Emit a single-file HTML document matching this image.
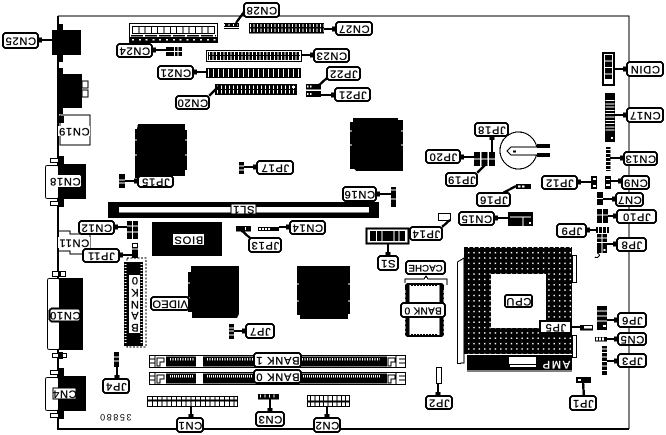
<!DOCTYPE html>
<html><head><meta charset="utf-8">
<style>
html,body{margin:0;padding:0;background:#fff}
svg{display:block;shape-rendering:crispEdges}
text{font-family:"Liberation Sans",sans-serif;font-size:11px;letter-spacing:.8px;text-anchor:middle;dominant-baseline:central;fill:#000;stroke:#000;stroke-width:.3}
.b{fill:#fff;stroke:#000;stroke-width:2}
.w{fill:#fff;stroke:#000;stroke-width:1}
.k{fill:#000}
.v{fill:#fff}
.t{stroke:#fff;fill:none}
.d{stroke:#000;fill:none}
.p{stroke:#000;stroke-width:2.4;fill:none}
.q{stroke:#000;stroke-width:5;fill:none}
</style></head>
<body>
<svg width="666" height="435" viewBox="0 0 666 435" xmlns="http://www.w3.org/2000/svg">
<defs>
<pattern id="dots" x="466" y="250" width="5.35" height="5.35" patternUnits="userSpaceOnUse">
<rect width="5.35" height="5.35" fill="#000"/><rect x="2" y="2" width="1.5" height="1.5" fill="#fff"/>
</pattern>
</defs>
<rect width="666" height="435" fill="#fff"/>
<!-- board -->
<path d="M58 16H629V429" fill="none" stroke="#000" stroke-width="1.3"/>
<path d="M58 16V429H629" fill="none" stroke="#000" stroke-width="2"/>

<!-- left I/O -->
<rect class="k" x="52" y="30" width="29" height="25"/><rect class="k" x="58" y="24" width="5" height="38"/>
<rect class="k" x="58" y="74" width="24" height="34"/><rect class="k" x="58" y="68" width="5" height="46"/>
<rect class="w" x="82" y="81" width="6" height="7"/><rect class="w" x="82" y="90" width="6" height="7"/>
<rect class="w" x="60" y="115" width="30" height="30"/><rect class="k" x="58" y="116" width="6" height="7"/>
<rect class="w" x="45.500" y="165.500" width="13" height="33" rx="2"/>
<rect class="k" x="58" y="164" width="28" height="35"/>
<rect class="w" x="50.500" y="158.500" width="8" height="4"/><rect class="w" x="50.500" y="201.500" width="8" height="4"/>
<rect class="k" x="58" y="156" width="6" height="8"/><rect class="k" x="58" y="199" width="6" height="8"/>
<path d="M59 231H70V234H90V254H70V251H59" class="w"/>
<rect class="w" x="47.500" y="278.500" width="12" height="71" rx="2"/>
<rect class="k" x="59" y="278" width="24" height="72"/>
<rect class="w" x="52.500" y="271.500" width="13" height="5"/><rect class="w" x="52.500" y="353.500" width="14" height="4"/>
<rect class="k" x="58" y="271" width="3" height="6"/><rect class="k" x="58" y="352" width="5" height="7"/>
<rect class="w" x="45.500" y="377.500" width="13" height="33" rx="2"/>
<rect class="k" x="58" y="376" width="28" height="35"/>
<rect class="w" x="50.500" y="370.500" width="8" height="4"/><rect class="w" x="50.500" y="413.500" width="8" height="4"/>
<rect class="k" x="58" y="368" width="6" height="8"/><rect class="k" x="58" y="411" width="6" height="8"/>

<!-- top-left connector -->
<rect class="w" x="129.500" y="23.500" width="88" height="19"/>
<rect class="w" x="132.500" y="26.500" width="82" height="7"/>
<path class="d" d="M132 30H215" stroke-width="7" stroke-dasharray="1 5.3"/>
<path class="d" d="M131 35.500H216" stroke-width="1.5" stroke-dasharray="12 2"/>
<rect class="k" x="130" y="37" width="87" height="5"/>
<path class="t" d="M132 39.500H216" stroke-width="1.500" stroke-dasharray="2 4.8"/>

<!-- CN24, CN28 -->
<rect class="k" x="166" y="47" width="16" height="9"/><path class="t" d="M166 51.500H182M174.500 47V56M178 47V56" stroke-width="1"/>
<rect class="k" x="224" y="23" width="15" height="6"/><path class="t" d="M224 27.500H239" stroke-width=".7"/><path class="t" d="M224 25H238" stroke-width="2" stroke-dasharray="1 3.5"/>

<!-- slots -->
<rect class="k" x="249" y="23" width="75" height="10.500"/>
<path class="t" d="M250 28H324" stroke-width="8" stroke-dasharray="1 2.5"/>
<path class="k" d="M249 27h75v1.500h-75z"/>
<rect class="w" x="206.500" y="50.500" width="95" height="11"/><rect class="k" x="208" y="52" width="92" height="8"/>
<path class="t" d="M209 56H300" stroke-width="8" stroke-dasharray="1 2.6"/><path d="M209 55.500H300" stroke="#000" stroke-width="1.4"/>
<rect class="k" x="206" y="68" width="95" height="10"/>
<path class="t" d="M208 73H300" stroke-width="8" stroke-dasharray="1 4"/>
<rect class="k" x="215" y="84" width="82" height="11"/>
<path class="t" d="M217 89.500H296" stroke-width="8" stroke-dasharray="1 3"/><path d="M217 89.500H296" stroke="#000" stroke-width="1.4"/>
<rect class="v" x="292" y="86" width="3" height="2"/>

<!-- JP21/22 -->
<rect class="k" x="306" y="84" width="15" height="5.500"/><path class="t" d="M307 86.500h5" stroke-width="1.800" stroke-dasharray="1.500 1.500"/>
<rect class="k" x="306" y="91" width="15" height="6"/><path class="t" d="M307 94h5" stroke-width="1.800" stroke-dasharray="1.500 1.500"/>

<!-- right connectors -->
<rect class="k" x="602" y="52" width="13" height="34"/><rect class="v" x="604" y="54" width="9" height="30"/>
<path class="d" d="M608.500 55V79" stroke-width="7" stroke-dasharray="5.500 1"/>
<rect class="k" x="605" y="93" width="10" height="49"/>
<path class="t" d="M610 100V133" stroke-width="9" stroke-dasharray="1 2.300"/>
<rect class="v" x="611" y="137" width="2" height="2"/>
<rect class="k" x="606" y="147" width="4.500" height="24"/><path class="t" d="M608 149V171" stroke-width="5" stroke-dasharray="1 3"/>
<rect class="k" x="605" y="176" width="6" height="13"/><rect class="v" x="606" y="179" width="4" height="1"/><rect class="v" x="606" y="184" width="4" height="2"/>
<rect class="k" x="591" y="176" width="6" height="13"/><rect class="v" x="593" y="178" width="3" height="2"/><rect class="v" x="593" y="185" width="3" height="2"/>
<rect class="k" x="597" y="192" width="6" height="13"/><path class="t" d="M597 198.500H603" stroke-width="1"/>
<rect class="k" x="597" y="209" width="11" height="14"/><path class="t" d="M597 215H608M602.500 209V223" stroke-width="1"/>
<rect class="k" x="596" y="227" width="13" height="6"/><path class="t" d="M598 230H608" stroke-width="6" stroke-dasharray="1 3"/>
<rect class="k" x="597" y="234" width="10" height="19"/><path class="t" d="M597 238H607M597 242.500H607M602 234V253" stroke-width="1"/><rect class="v" x="603.500" y="249" width="2" height="2"/>
<path d="M597 253c3 1 3 3 1 4c-1 1-2 1-3 0" fill="none" stroke="#000"/>

<!-- JP18-20 block -->
<rect class="k" x="474" y="152" width="6" height="14"/><rect class="k" x="481.500" y="152" width="6" height="14"/><rect class="k" x="489" y="152" width="6" height="14"/>
<path class="t" d="M474 159H480M481.500 159H487.500M489 159H495" stroke-width="1"/>

<!-- battery -->
<circle cx="518.500" cy="150.500" r="18.500" fill="#fff" stroke="#000" stroke-width="1.100"/>
<path d="M550 147H511L507 151L511 155H550" class="w"/>
<rect class="k" x="537" y="144" width="13" height="4"/><rect class="k" x="537" y="153" width="13" height="4"/>
<path class="k" d="M513 150.500h3v2h-3z"/>

<!-- JP16 + CN15 -->
<rect class="k" x="516" y="184" width="15" height="5"/><rect class="v" x="518" y="185.500" width="2.500" height="2"/><rect class="v" x="522" y="185.500" width="2.500" height="2"/>
<rect class="k" x="508" y="212" width="25" height="14"/><path class="t" d="M510 217H531M523 217V226" stroke-width="1"/><rect class="v" x="529" y="222" width="2" height="2"/>
<rect class="w" x="438.500" y="213.500" width="12" height="7"/>

<!-- chips -->
<path class="k" d="M138 124H185V130H187V170H185V176H172L170 178H135V129H137z"/>
<path class="k" d="M353 118H398V120H403V171H356L354 169H350V122H353z"/>
<path class="k" d="M191 266H239V314L237 318H192V312H188V272H191z"/>
<path class="k" d="M297 266H350V314H348V319H300V315H297z"/>
<path class="t" d="M135 140H137M135 155H137M185 140H187M185 155H187M350 131H352M350 145H352M401 131H403M401 145H403M188 283H190M188 298H190M297 284H299M297 301H299M348 284H350M348 301H350" stroke-width="1"/>

<!-- BIOS / SL1 -->
<rect class="k" x="152" y="222" width="70" height="34"/>
<rect class="k" x="108" y="202" width="271" height="16"/><rect class="v" x="119" y="207" width="250" height="5.500"/>

<!-- video chip -->
<rect x="127" y="258" width="19" height="89" fill="none" stroke="#000" stroke-dasharray="2 1.500"/>
<rect class="k" x="124" y="262" width="19" height="84"/>
<rect class="v" x="129" y="275" width="11" height="58"/>
<path class="t" d="M125.500 264V344M141.500 264V344" stroke-width="2" stroke-dasharray="1 2"/>

<!-- CN14, JP13, S1, JP7 etc. -->
<rect class="k" x="258" y="227" width="21" height="4"/><path class="t" d="M259 229H270" stroke-width="2" stroke-dasharray="2 1"/>
<rect class="k" x="236" y="226" width="15" height="5.500"/><rect class="v" x="245" y="227" width="1" height="3"/>
<rect class="b" x="366.500" y="228.500" width="42" height="15"/>
<rect class="k" x="370" y="231" width="35" height="10"/>
<path class="t" d="M376.500 231V241M382 231V241M394 231V241M399 231V241" stroke-width="1"/>
<rect class="k" x="119" y="174" width="6" height="14"/><path class="t" d="M119 180H125M119 183H125" stroke-width=".9"/>
<rect class="k" x="127" y="221" width="11" height="18"/><path class="t" d="M132.500 221V239M127 226H138M127 232H138" stroke-width="1"/>
<rect class="k" x="132" y="243" width="6" height="15"/><rect class="v" x="133" y="244" width="4" height="3"/><path class="t" d="M132 249H138" stroke-width="1"/>
<rect class="k" x="239" y="162" width="5" height="12"/><path class="t" d="M239 166H244M239 170H244" stroke-width=".9"/>
<rect class="k" x="391" y="187" width="5" height="20"/><path class="t" d="M391 190H396M391 199H396" stroke-width=".9"/>
<rect class="k" x="229" y="324" width="5" height="15"/><path class="t" d="M229 328H234M229 331H234M229 335H234" stroke-width=".9"/>
<rect class="k" x="114" y="352" width="5" height="15"/><path class="t" d="M114 357H119M114 361H119" stroke-width=".9"/>

<!-- cache -->
<rect class="k" x="405" y="283" width="39" height="54" rx="3"/>
<rect class="v" x="409.500" y="285" width="30" height="50"/>
<path class="d" d="M406 290V333M443 290V333" stroke-width="3" stroke-dasharray="3 1.500"/>
<path class="t" d="M405 290V333M444 290V333" stroke-width="1" stroke-dasharray="3 1.500"/>
<path class="d" d="M411 284.500H438M411 335.500H438" stroke-width="3" stroke-dasharray="2 1"/>
<path class="d" d="M405 283V279H424L426 276L428 279H447V285"/>

<!-- CPU -->
<path class="w" d="M457.500 363.500V262L464 258V363z"/>
<rect x="464" y="247" width="108" height="107" fill="url(#dots)"/>
<rect class="v" x="491" y="274" width="55" height="54"/>
<rect class="w" x="572.500" y="255.500" width="4" height="27"/>
<rect class="w" x="572.500" y="335.500" width="4" height="22"/>
<rect class="k" x="467" y="355" width="105" height="15"/>
<rect class="v" x="509" y="357" width="27" height="7"/><rect class="v" x="510" y="365" width="26" height="2"/>
<path d="M467 371H572" stroke="#000"/>

<!-- JP etc lower right -->
<rect class="k" x="597" y="306" width="10" height="24"/><path class="t" d="M597 311H607M597 316H607M597 321H607" stroke-width="1"/><rect class="v" x="603" y="325" width="3" height="2"/>
<rect class="k" x="580" y="325" width="13" height="5.500"/><rect class="v" x="584" y="326" width="8" height="2.500"/>
<rect class="k" x="595" y="337" width="12" height="4.500"/><path class="t" d="M596 339H604" stroke-width="3" stroke-dasharray="2 1"/>
<rect class="k" x="602" y="346" width="5" height="29"/><path class="t" d="M602 349H607" stroke-width=".9"/><path class="t" d="M604.500 352V374" stroke-width="5" stroke-dasharray="1 3.500"/>
<rect class="k" x="576" y="377" width="15" height="6"/><rect class="v" x="578" y="379" width="3" height="2"/>
<rect class="w" x="436.500" y="367.500" width="5" height="16"/>

<!-- banks -->
<g>
<rect class="w" x="149.500" y="355.500" width="256" height="12"/>
<rect class="k" x="166" y="356.500" width="30" height="10"/><rect class="k" x="203" y="356.500" width="184" height="10"/>
<path class="t" d="M170 359H194M207 359H380" stroke-width="2.500" stroke-dasharray="1 1.500"/>
<path d="M155 356V367M149 359H155M149 363H155M157 358H164V362H160V366H157zM396 356V367M399 359H405M399 363H405M388 358H395V362H391V366H388z" fill="none" stroke="#000"/>
<rect class="w" x="149.500" y="372.500" width="256" height="12"/>
<rect class="k" x="166" y="373.500" width="30" height="10"/><rect class="k" x="203" y="373.500" width="184" height="10"/>
<path class="t" d="M170 376H194M207 376H380" stroke-width="2.500" stroke-dasharray="1 1"/>
<path d="M155 373V384M149 376H155M149 380H155M157 375H164V379H160V383H157zM396 373V384M399 376H405M399 380H405M388 375H395V379H391V383H388z" fill="none" stroke="#000"/>
</g>

<!-- bottom connectors -->
<rect class="w" x="147.500" y="396.500" width="90" height="10"/><path d="M148 400.500H237" stroke="#000" stroke-width="2"/><path class="d" d="M152 401H236" stroke-width="10" stroke-dasharray="1 3.800"/>
<rect class="k" x="258" y="394" width="21" height="5.500"/><path class="t" d="M260 396H278" stroke-width="3" stroke-dasharray="1 3.500"/>
<rect class="w" x="307.500" y="395.500" width="42" height="11"/><path d="M308 401.500H349" stroke="#000" stroke-width="2"/><path class="d" d="M310 401H348" stroke-width="10" stroke-dasharray="1 3.400"/>

<!-- pointer lines -->
<path class="p" d="M38 40H52M152 50H167M193 72H207M209 96L218 87M244 12L236 23M336 29H324M314 55H301M327 78L318 86M335 95H321M627 69H615M627 115H615M492 136V152M460 157H474M477 173L485 165M503 193L516 186M624 158H610M577 182H591M622 181H611M616 199H603M617 216H608M586 230H596M617 244H607M494 218H508M138 181H125M114 227H127M119 255H132M257 167H244M376 194H391M290 227H279M250 238L241 230M388 256V243M442 227L450 220M117 379V367M191 418V406M270 412V399M327 418V406M246 331H234M438 396V383M571 327H580M618 320H607M618 339H607M618 361H607M584 396L583 383"/>
<path class="q" d="M38 40H42M152 50H156M193 72H197M336 29H332M314 55H310M335 95H331M627 69H623M627 115H623M492 136V140M460 157H464M624 158H620M577 182H581M622 181H618M616 199H612M617 216H613M586 230H590M617 244H613M494 218H498M138 181H134M114 227H118M119 255H123M257 167H253M376 194H380M290 227H286M388 256V252M117 379V375M191 418V414M270 412V408M327 418V414M246 331H242M438 396V392M618 320H614M618 339H614M618 361H614"/>

<!-- labels -->
<rect class="b" x="3" y="33" width="35" height="15" rx="3"/><text transform="translate(20.500,40.500) rotate(180)">CN25</text>
<rect class="b" x="117" y="44" width="35" height="13" rx="3"/><text transform="translate(134.500,50.500) rotate(180)">CN24</text>
<rect class="b" x="158" y="66" width="35" height="13" rx="3"/><text transform="translate(175.500,72.500) rotate(180)">CN21</text>
<rect class="b" x="176" y="96" width="33" height="13" rx="3"/><text transform="translate(192.500,102.500) rotate(180)">CN20</text>
<rect x="58" y="126" width="32" height="10" fill="#fff"/><text transform="translate(74,131) rotate(180)">CN19</text>
<rect class="b" x="244" y="3" width="35" height="14" rx="3"/><text transform="translate(261.500,10) rotate(180)">CN28</text>
<rect class="b" x="336" y="22" width="36" height="13" rx="3"/><text transform="translate(354,28.500) rotate(180)">CN27</text>
<rect class="b" x="314" y="49" width="35" height="13" rx="3"/><text transform="translate(331.500,55.500) rotate(180)">CN23</text>
<rect class="b" x="327" y="67" width="33" height="13" rx="3"/><text transform="translate(343.500,73.500) rotate(180)">JP22</text>
<rect class="b" x="335" y="88" width="35" height="13" rx="3"/><text transform="translate(352.500,94.500) rotate(180)">JP21</text>
<rect class="b" x="627" y="62" width="36" height="14" rx="3"/><text transform="translate(645,69) rotate(180)">CDIN</text>
<rect class="b" x="627" y="108" width="36" height="14" rx="3"/><text transform="translate(645,115) rotate(180)">CN17</text>
<rect class="b" x="475" y="123" width="33" height="13" rx="3"/><text transform="translate(491.500,129.500) rotate(180)">JP18</text>
<rect class="b" x="426" y="150" width="34" height="13" rx="3"/><text transform="translate(443,156.500) rotate(180)">JP20</text>
<rect class="b" x="446" y="173" width="31" height="13" rx="3"/><text transform="translate(461.500,179.500) rotate(180)">JP19</text>
<rect class="b" x="477" y="193" width="33" height="13" rx="3"/><text transform="translate(493.500,199.500) rotate(180)">JP16</text>
<rect class="b" x="624" y="152" width="33" height="13" rx="3"/><text transform="translate(640.500,158.500) rotate(180)">CN13</text>
<rect class="b" x="542" y="176" width="35" height="13" rx="3"/><text transform="translate(559.500,182.500) rotate(180)">JP12</text>
<rect class="b" x="622" y="176" width="27" height="13" rx="3"/><text transform="translate(635.500,182.500) rotate(180)">CN9</text>
<rect class="b" x="616" y="193" width="27" height="13" rx="3"/><text transform="translate(629.500,199.500) rotate(180)">CN7</text>
<rect class="b" x="617" y="210" width="39" height="13" rx="3"/><text transform="translate(636.500,216.500) rotate(180)">JP10</text>
<rect class="b" x="557" y="224" width="29" height="13" rx="3"/><text transform="translate(571.500,230.500) rotate(180)">JP9</text>
<rect class="b" x="617" y="238" width="29" height="13" rx="3"/><text transform="translate(631.500,244.500) rotate(180)">JP8</text>
<rect class="b" x="459" y="212" width="35" height="13" rx="3"/><text transform="translate(476.500,218.500) rotate(180)">CN15</text>
<rect x="49" y="175" width="32" height="12" fill="#fff" rx="2"/><text transform="translate(65,181) rotate(180)">CN18</text>
<rect class="b" x="138" y="176" width="35" height="11" rx="3"/><text transform="translate(155.500,181.500) rotate(180)">JP15</text>
<rect class="b" x="79" y="221" width="35" height="13" rx="3"/><text transform="translate(96.500,227.500) rotate(180)">CN12</text>
<rect x="58" y="237" width="32" height="11" fill="#fff"/><text transform="translate(74,242.500) rotate(180)">CN11</text>
<rect class="b" x="83" y="249" width="36" height="13" rx="3"/><text transform="translate(101,255.500) rotate(180)">JP11</text>
<rect class="b" x="257" y="161" width="36" height="13" rx="3"/><text transform="translate(275,167.500) rotate(180)">JP17</text>
<rect class="b" x="343" y="187" width="33" height="14" rx="3"/><text transform="translate(359.500,194) rotate(180)">CN16</text>
<rect x="231" y="204" width="25" height="10" fill="#fff" stroke="#000"/><text transform="translate(243.500,209) rotate(180)">SL1</text>
<rect class="b" x="290" y="221" width="35" height="13" rx="3"/><text transform="translate(307.500,227.500) rotate(180)">CN14</text>
<rect class="b" x="249" y="238" width="32" height="14" rx="3"/><text transform="translate(265,245) rotate(180)">JP13</text>
<rect class="b" x="378" y="256" width="20" height="14" rx="3"/><text transform="translate(388,263) rotate(180)">S1</text>
<rect class="b" x="410" y="227" width="32" height="13" rx="3"/><text transform="translate(426,233.500) rotate(180)">JP14</text>
<rect class="b" x="406" y="261" width="39" height="13" rx="3"/><text transform="translate(425.500,267.500) rotate(180)" style="font-size:9.500px;letter-spacing:.2px">CACHE</text>
<rect x="173" y="234" width="31" height="11" fill="#fff"/><text transform="translate(188.500,239.500) rotate(180)">BIOS</text>
<rect class="b" x="151" y="297" width="38" height="13" rx="3"/><text transform="translate(170,303.500) rotate(180)" style="letter-spacing:.3px">VIDEO</text>
<text transform="translate(134.500,280) rotate(180)">0</text>
<text transform="translate(134.500,292) rotate(180)">K</text>
<text transform="translate(134.500,304) rotate(180)">N</text>
<text transform="translate(134.500,315) rotate(180)">A</text>
<text transform="translate(134.500,327) rotate(180)">B</text>
<rect class="b" x="49.500" y="308.500" width="31" height="13" rx="3"/><text transform="translate(65,315) rotate(180)">CN10</text>
<rect class="b" x="103" y="379" width="26" height="14" rx="3"/><text transform="translate(116,386) rotate(180)">JP4</text>
<rect x="53" y="388" width="23" height="11" fill="#fff" stroke="#000"/><text transform="translate(64.500,393.500) rotate(180)">CN4</text>
<rect class="b" x="177" y="418" width="26" height="14" rx="3"/><text transform="translate(190,425) rotate(180)">CN1</text>
<text transform="translate(115,417) rotate(180)" style="font-size:9px;letter-spacing:1.600px;stroke-width:0">35880</text>
<rect class="b" x="246" y="324" width="28" height="14" rx="3"/><text transform="translate(260,331) rotate(180)">JP7</text>
<rect class="b" x="254" y="353" width="47" height="14" rx="3"/><text transform="translate(277.500,360) rotate(180)">BANK 1</text>
<rect class="b" x="254" y="370" width="47" height="13" rx="3"/><text transform="translate(277.500,376.500) rotate(180)">BANK 0</text>
<rect class="b" x="401" y="303" width="44" height="14" rx="3"/><text transform="translate(423,310) rotate(180)" style="font-size:10px;letter-spacing:.3px">BANK 0</text>
<rect class="b" x="256" y="412" width="28" height="14" rx="3"/><text transform="translate(270,419) rotate(180)">CN3</text>
<rect class="b" x="314" y="418" width="26" height="14" rx="3"/><text transform="translate(327,425) rotate(180)">CN2</text>
<rect class="b" x="426" y="396" width="26" height="13" rx="3"/><text transform="translate(439,402.500) rotate(180)">JP2</text>
<rect class="b" x="540" y="321" width="31" height="12"/><text transform="translate(555.500,327) rotate(180)">JP5</text>
<rect class="b" x="618" y="313" width="28" height="14" rx="3"/><text transform="translate(632,320) rotate(180)">JP6</text>
<rect class="b" x="618" y="333" width="28" height="12" rx="3"/><text transform="translate(632,339) rotate(180)">CN5</text>
<rect class="b" x="618" y="354" width="28" height="13" rx="3"/><text transform="translate(632,360.500) rotate(180)">JP3</text>
<rect class="b" x="570" y="396" width="26" height="14" rx="3"/><text transform="translate(583,403) rotate(180)">JP1</text>
<rect class="b" x="505" y="295" width="27" height="12" rx="2"/><text transform="translate(518.500,301) rotate(180)">CPU</text>
<text transform="translate(555.500,364) rotate(180)" style="fill:#fff;stroke:#fff;letter-spacing:1.800px">AMP</text>
</svg>
</body></html>
